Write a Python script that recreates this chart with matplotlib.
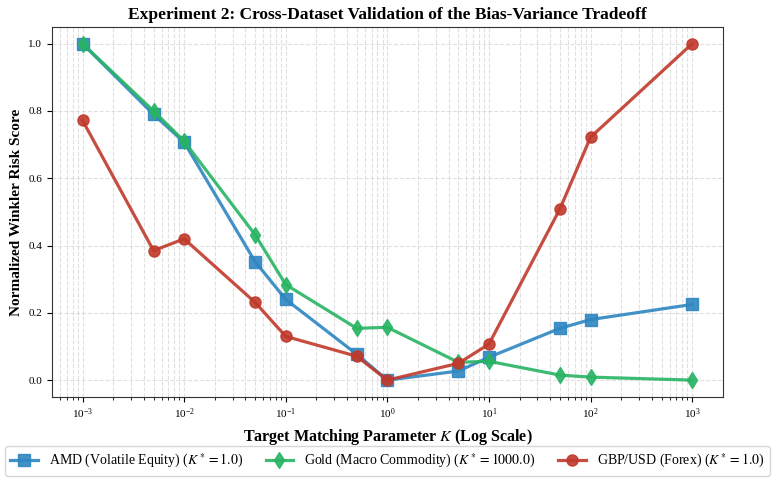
import numpy as np
import matplotlib
matplotlib.use("Agg")
import matplotlib.pyplot as plt

plt.rcParams['font.family'] = ['Liberation Serif', 'DejaVu Serif']
plt.rcParams['mathtext.fontset'] = 'stix'

# target matching parameter K
k_values = [1e-3, 5e-3, 1e-2, 5e-2, 1e-1, 5e-1, 1, 5, 10, 50, 100, 1000]

# normalized winkler risk per dataset
amd = [1.0, 0.79, 0.707, 0.352, 0.24, 0.077, 0.0, 0.027, 0.068, 0.154, 0.18, 0.225]
gold = [1.0, 0.80, 0.71, 0.432, 0.284, 0.154, 0.157, 0.053, 0.056, 0.015, 0.009, 0.0]
gbp = [0.772, 0.385, 0.42, 0.231, 0.13, 0.071, 0.0, 0.05, 0.107, 0.509, 0.722, 1.0]

labels = ['AMD (Volatile Equity) ($K^*=1.0$)',
          'Gold (Macro Commodity) ($K^*=1000.0$)',
          'GBP/USD (Forex) ($K^*=1.0$)']

fig, ax = plt.subplots(figsize=(7.77, 4.80), dpi=100)

ax.plot(k_values, amd, marker='s', color='#2E86C1', lw=2.3, ms=8, alpha=0.9, label=labels[0])
ax.plot(k_values, gold, marker='d', color='#28B463', lw=2.3, ms=8, alpha=0.9, label=labels[1])
ax.plot(k_values, gbp, marker='o', color='#C0392B', lw=2.3, ms=8, alpha=0.9, label=labels[2])

ax.set_xscale('log')
ax.grid(True, which='both', linestyle='--', color='#cccccc', alpha=0.6, lw=0.8)
ax.tick_params(labelsize=8)

ax.set_xlabel('Target Matching Parameter $K$ (Log Scale)', fontsize=11.5, fontweight='bold')
ax.set_ylabel('Normalized Winkler Risk Score', fontsize=11, fontweight='bold')
ax.set_title('Experiment 2: Cross-Dataset Validation of the Bias-Variance Tradeoff',
             fontsize=12.5, fontweight='bold')

for s in ax.spines.values():
    s.set_color('#333333')

ax.legend(loc='upper center', bbox_to_anchor=(0.5, -0.115), ncol=3, fontsize=10,
          frameon=True, handlelength=2.0, columnspacing=1.6, borderpad=0.4)

fig.subplots_adjust(left=0.067, right=0.93, top=0.944, bottom=0.173)
fig.savefig('out.png', dpi=100)
